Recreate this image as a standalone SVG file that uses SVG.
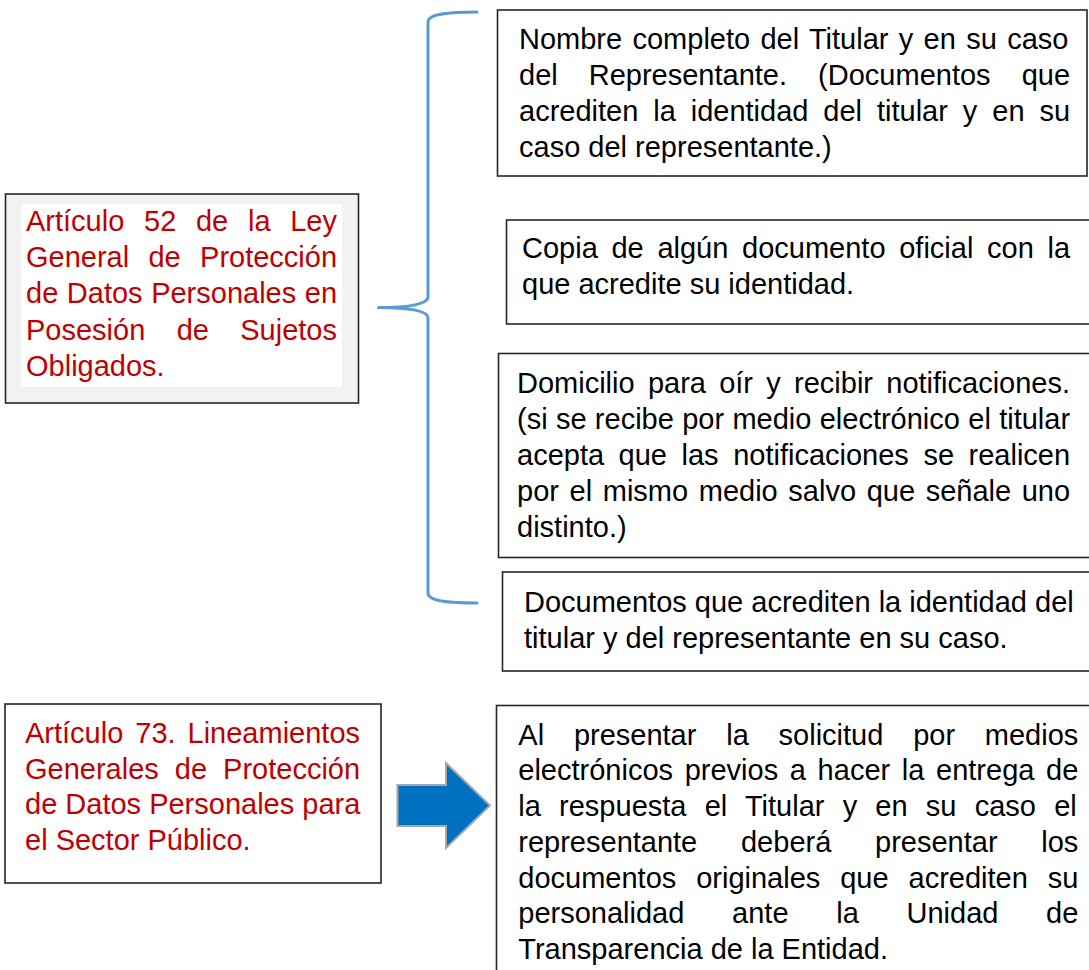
<svg xmlns="http://www.w3.org/2000/svg" width="1089" height="970" viewBox="0 0 1089 970">
<style>
text{font-family:"Liberation Sans",Arial,sans-serif;font-size:29px}
.red{fill:#c00000}
.blk{fill:#000}
.box{fill:#fff;stroke:#262626;stroke-width:1.6}
.brace{fill:none;stroke:#5b9bd5;stroke-width:3;stroke-linecap:round;stroke-linejoin:round}
.arrow{fill:#0070c0;stroke:#a6a6a6;stroke-width:2}
</style>
<rect width="1089" height="970" fill="#fff"/>
<g id="art52">
<rect x="5.5" y="194" width="353" height="209" fill="#f2f2f2" stroke="#262626" stroke-width="1.6"/>
<rect x="21" y="204" width="321" height="183" fill="#fff"/>
<text class="red" x="26" y="231" word-spacing="11.65">Artículo 52 de la Ley</text>
<text class="red" x="26" y="267" word-spacing="11.25">General de Protección</text>
<text class="red" x="26" y="303" word-spacing="0.5">de Datos Personales en</text>
<text class="red" x="26" y="339.5" word-spacing="23.3">Posesión de Sujetos</text>
<text class="red" x="26" y="375.5">Obligados.</text>
</g>
<g id="art73">
<rect class="box" x="5" y="704" width="376" height="179"/>
<text class="red" x="25" y="742.5" word-spacing="3.9">Artículo 73. Lineamientos</text>
<text class="red" x="25" y="778.5" word-spacing="7.95">Generales de Protección</text>
<text class="red" x="25" y="814">de Datos Personales para</text>
<text class="red" x="25" y="850">el Sector Público.</text>
</g>
<g id="nombre">
<rect class="box" x="497.5" y="10" width="589.5" height="166"/>
<text class="blk" x="519" y="48.5" word-spacing="2.27">Nombre completo del Titular y en su caso</text>
<text class="blk" x="519" y="84.5" word-spacing="23">del Representante. (Documentos que</text>
<text class="blk" x="519" y="120.5" word-spacing="6.87">acrediten la identidad del titular y en su</text>
<text class="blk" x="519" y="156.5">caso del representante.)</text>
</g>
<g id="copia">
<rect class="box" x="506.5" y="220" width="600" height="104"/>
<text class="blk" x="522" y="258" word-spacing="5.63">Copia de algún documento oficial con la</text>
<text class="blk" x="522" y="294">que acredite su identidad.</text>
</g>
<g id="domicilio">
<rect class="box" x="498.5" y="353.5" width="600" height="204"/>
<text class="blk" x="517" y="392.5" word-spacing="5.2">Domicilio para oír y recibir notificaciones.</text>
<text class="blk" x="517" y="428.5" word-spacing="0.26">(si se recibe por medio electrónico el titular</text>
<text class="blk" x="517" y="464.5" word-spacing="6.48">acepta que las notificaciones se realicen</text>
<text class="blk" x="517" y="500.5" word-spacing="2.56">por el mismo medio salvo que señale uno</text>
<text class="blk" x="517" y="536.5">distinto.)</text>
</g>
<g id="documentos">
<rect class="box" x="502.5" y="572" width="600" height="99"/>
<text class="blk" x="524" y="611.5">Documentos que acrediten la identidad del</text>
<text class="blk" x="524" y="647.5">titular y del representante en su caso.</text>
</g>
<g id="presentar">
<rect class="box" x="496.5" y="705.5" width="600" height="280"/>
<text class="blk" x="518.3" y="744.5" word-spacing="21.74">Al presentar la solicitud por medios</text>
<text class="blk" x="518.3" y="780.3" word-spacing="3.6">electrónicos previos a hacer la entrega de</text>
<text class="blk" x="518.3" y="816" word-spacing="10.16">la respuesta el Titular y en su caso el</text>
<text class="blk" x="518.3" y="851.8" word-spacing="35.68">representante deberá presentar los</text>
<text class="blk" x="518.3" y="887.6" word-spacing="11.85">documentos originales que acrediten su</text>
<text class="blk" x="518.3" y="923.4" word-spacing="39.65">personalidad ante la Unidad de</text>
<text class="blk" x="518.3" y="959.2">Transparencia de la Entidad.</text>
</g>
<g id="connectors">
<path class="brace" d="M477,12 C448,12 428,14 428,22 L428,297 C428,304 410,307.5 378.5,307.5 C410,307.5 428,311 428,318 L428,593 C428,601 448,603 477,603"/>
<polygon class="arrow" points="397.5,785 446,785 446,763 490,805.5 446,848 446,826 397.5,826"/>
</g>
</svg>
